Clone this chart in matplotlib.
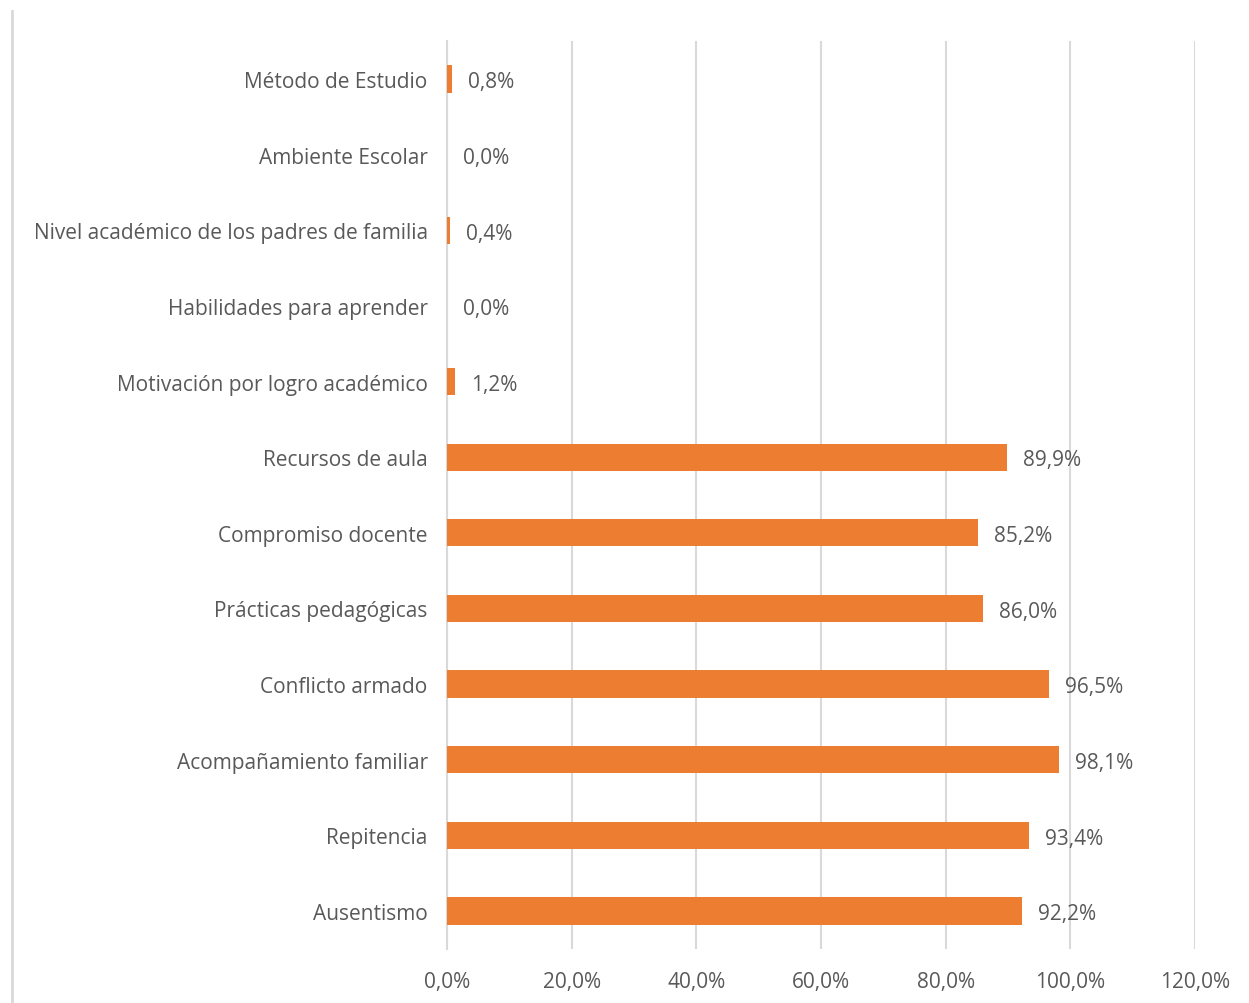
import matplotlib.pyplot as plt
from matplotlib.lines import Line2D

categorias = ["Ausentismo", "Repitencia", "Acompañamiento familiar", "Conflicto armado",
              "Prácticas pedagógicas", "Compromiso docente", "Recursos de aula",
              "Motivación por logro académico", "Habilidades para aprender",
              "Nivel académico de los padres de familia", "Ambiente Escolar",
              "Método de Estudio"]
valores = [92.2, 93.4, 98.1, 96.5, 86.0, 85.2, 89.9, 1.2, 0.0, 0.4, 0.0, 0.8]
ticks_x = [0, 20, 40, 60, 80, 100, 120]

naranja = "#ED7D31"
gris_texto = "#595959"
gris_linea = "#D9D9D9"

plt.rcParams['font.family'] = ['Open Sans', 'DejaVu Sans']

def pct(v):
    return f"{v:.1f}%".replace(".", ",")

fig = plt.figure(figsize=(12.49, 10.04), dpi=100)
ax = fig.add_axes([0.358, 0.054, 0.5988, 0.904])

pos = range(len(categorias))
ax.barh(pos, valores, height=0.36, color=naranja, zorder=3)
for y, v in zip(pos, valores):
    ax.annotate(pct(v), (v, y), xytext=(11.5, -2), textcoords="offset points",
                ha="left", va="center", fontsize=15, color=gris_texto)

ax.set_xlim(0, 120)
ax.set_ylim(-0.5, len(categorias) - 0.5)
ax.set_xticks(ticks_x)
ax.set_xticklabels([pct(t) for t in ticks_x])
ax.set_yticks(list(pos))
ax.set_yticklabels(categorias)
ax.tick_params(axis="both", length=0, labelsize=15, labelcolor=gris_texto)
ax.tick_params(axis="y", pad=14)
ax.tick_params(axis="x", pad=16)
ax.grid(axis="x", color=gris_linea, linewidth=1.5, zorder=0)
for s in ["top", "right", "bottom"]:
    ax.spines[s].set_visible(False)
ax.spines["left"].set_color(gris_linea)
ax.spines["left"].set_linewidth(1.5)

fig.add_artist(Line2D([12 / 1249, 12 / 1249], [0, 1 - 12 / 1004], color=gris_linea, linewidth=2))

fig.savefig("out.png", dpi=100)
